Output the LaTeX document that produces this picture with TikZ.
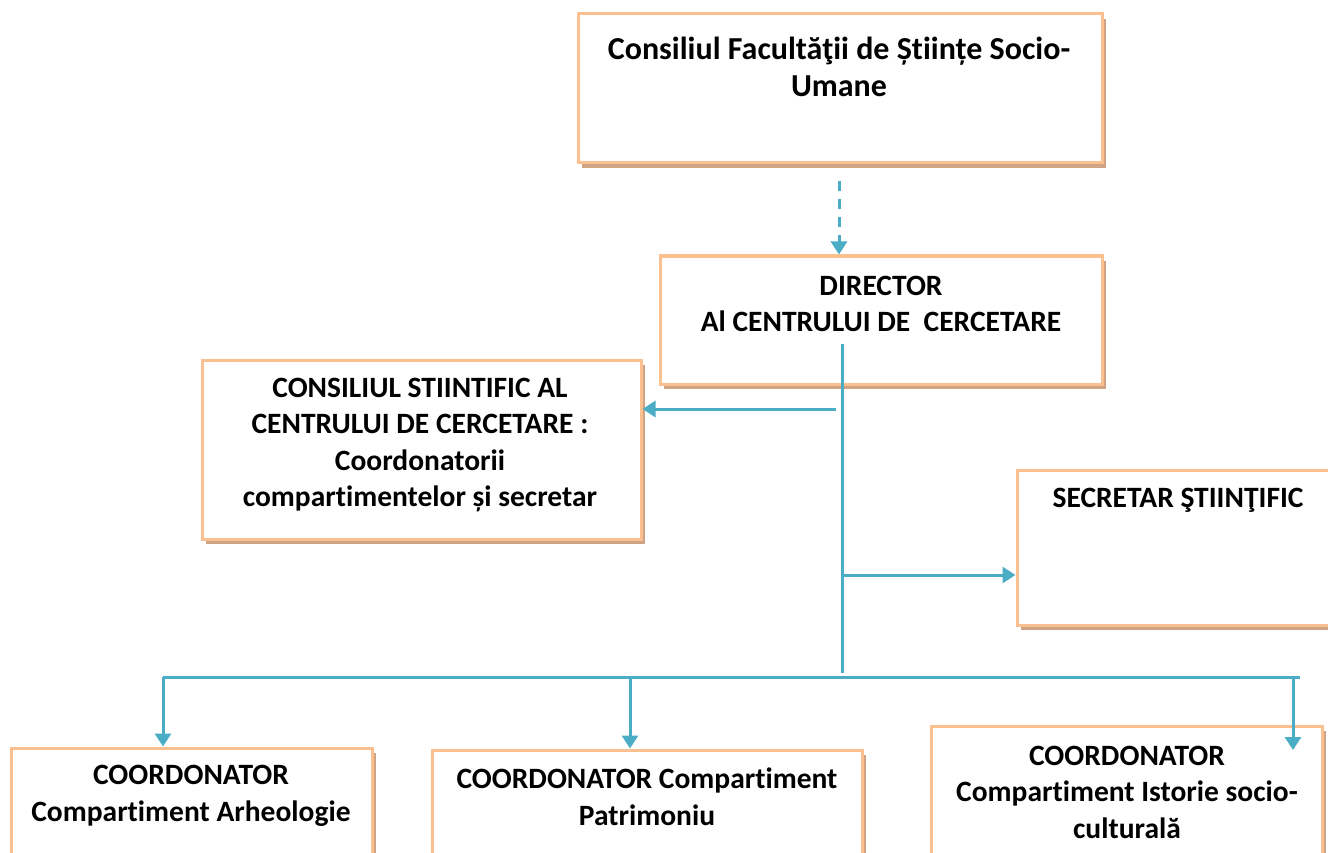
\documentclass[tikz,border=0pt]{standalone}
\usepackage{fontspec}
\setmainfont[Ligatures=NoCommon]{Carlito}
\usetikzlibrary{arrows.meta,shadows}
\definecolor{boxborder}{HTML}{FAC08F}
\definecolor{boxshadow}{HTML}{CFA383}
\definecolor{linkblue}{HTML}{4BACC6}
\tikzset{
  orgbox/.style={draw=boxborder, line width=3pt, fill=white, rectangle, inner sep=0pt,
    drop shadow={shadow xshift=4pt, shadow yshift=-5pt, fill=boxshadow, opacity=1}},
  lbl/.style={align=center, inner sep=0pt, font=\bfseries\fontsize{29.5}{36.5}\selectfont},
  biglbl/.style={lbl, font=\bfseries\fontsize{32}{37}\selectfont},
  link/.style={draw=linkblue, line width=3pt},
  arr/.style={link, -{Triangle[length=13pt,width=16pt]}},
  dasharr/.style={arr, dash pattern=on 10pt off 8pt}
}
\begin{document}
\begin{tikzpicture}[x=1pt,y=-1pt]
\useasboundingbox (0,0) rectangle (1328,853);
\clip (0,0) rectangle (1328,853);
% boxes
\node[orgbox, minimum width=524pt, minimum height=149pt] (top) at (840,88.5) {};
\node[orgbox, minimum width=442pt, minimum height=128pt] (dir) at (881,320) {};
\node[orgbox, minimum width=439pt, minimum height=179pt] (cons) at (421.5,449.5) {};
\node[orgbox, minimum width=322pt, minimum height=155pt] (sec) at (1178,547.5) {};
\node[orgbox, minimum width=361pt, minimum height=152pt] (ca) at (191.5,824) {};
\node[orgbox, minimum width=430pt, minimum height=150pt] (cb) at (647,825) {};
\node[orgbox, minimum width=391pt, minimum height=174pt] (cc) at (1126.5,813) {};
% texts
\node[biglbl] (toptxt) at (839,66.5) {Consiliul Facultăţii de Științe Socio-\\Umane};
\node[lbl] (dirtxt) at (881,304) {DIRECTOR\\Al CENTRULUI DE\ \ CERCETARE};
\node[lbl] (constxt) at (420,445) {CONSILIUL STIINTIFIC AL\\CENTRULUI DE CERCETARE :\\Coordonatorii\\compartimentelor și secretar};
\node[lbl] (sectxt) at (1178,500) {SECRETAR ŞTIINŢIFIC};
\node[lbl] (catxt) at (191,796) {COORDONATOR\\Compartiment Arheologie};
\node[lbl] (cbtxt) at (647,797) {COORDONATOR Compartiment\\Patrimoniu};
\node[lbl] (cctxt) at (1127,792) {COORDONATOR\\Compartiment Istorie socio-\\culturală};
% connector points
\coordinate (dashstart) at (839,181);
\coordinate (trunktop) at (842,344);
\coordinate (trunkbot) at (842,673);
\coordinate (consfrom) at (836,409);
\coordinate (secfrom) at (842,575);
\coordinate (busl) at (163,677);
\coordinate (busr) at (1300,677);
\coordinate (busb) at (630,677);
\coordinate (busc) at (1293,677);
\coordinate (ctip) at (1293,750);
% connectors
\draw[dasharr] (dashstart) -- (dashstart |- dir.north);
\draw[link] (trunktop) -- (trunkbot);
\draw[arr] (consfrom) -- (consfrom -| cons.east);
\draw[arr] (secfrom) -- (secfrom -| sec.west);
\draw[link] (busl) -- (busr);
\draw[arr] (busl) -- (busl |- ca.north);
\draw[arr] (busb) -- (busb |- cb.north);
\draw[arr] (busc) -- (ctip);
\end{tikzpicture}
\end{document}
